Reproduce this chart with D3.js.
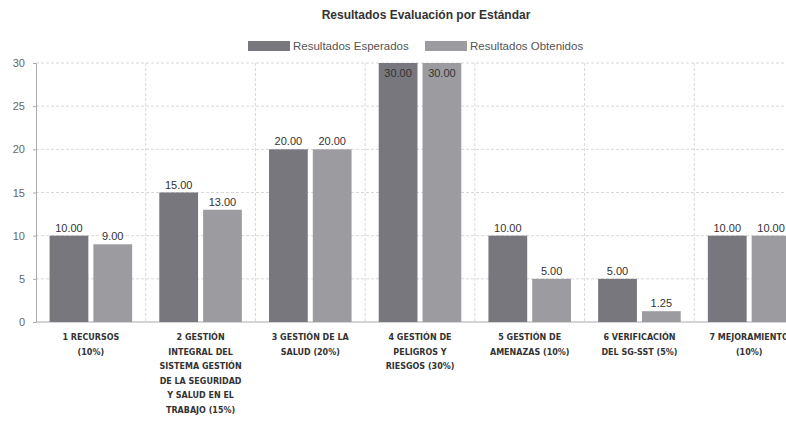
<!DOCTYPE html>
<html>
<head>
<meta charset="utf-8">
<script src="https://cdn.jsdelivr.net/npm/d3@7"></script>
<style>
  body { margin: 0; background: #fff; }
  svg { display: block; font-family: "Liberation Sans", Arial, sans-serif; }
</style>
</head>
<body>
<svg id="chart" width="786" height="423"></svg>
<script>
"use strict";
// chart data
const categories = ["1", "2", "3", "4", "5", "6", "7"];
const categoryLines = [
    ["1 RECURSOS", "(10%)"],
    ["2 GESTIÓN", "INTEGRAL DEL", "SISTEMA GESTIÓN", "DE LA SEGURIDAD", "Y SALUD EN EL", "TRABAJO (15%)"],
    ["3 GESTIÓN DE LA", "SALUD (20%)"],
    ["4 GESTIÓN DE", "PELIGROS Y", "RIESGOS (30%)"],
    ["5 GESTIÓN DE", "AMENAZAS (10%)"],
    ["6 VERIFICACIÓN", "DEL SG-SST (5%)"],
    ["7 MEJORAMIENTO", "(10%)"]
];
const seriesNames = ["Resultados Esperados", "Resultados Obtenidos"];
const esperados = [10, 15, 20, 30, 10, 5, 10];
const obtenidos = [9, 13, 20, 30, 5, 1.25, 10];
const yTicks = [0, 5, 10, 15, 20, 25, 30];
const colors = ["#77777d", "#9b9ba0"];

const svg = d3.select("#chart");
const margin = {top: 63, left: 36, bottom: 101};
const plotRight = 804;   // the plot runs past the window edge
const height = 423;

const x = d3.scaleBand().domain(categories)
    .range([margin.left, plotRight]).paddingInner(0).paddingOuter(0);
const x1 = d3.scaleBand().domain([0, 1])
    .range([0, x.bandwidth()]).paddingInner(0.115).paddingOuter(0.31);
const y = d3.scaleLinear().domain([0, 30]).range([height - margin.bottom, margin.top]);

// title
svg.append("text")
    .attr("x", 426).attr("y", 19)
    .attr("text-anchor", "middle")
    .attr("font-size", 12).attr("font-weight", "bold")
    .attr("fill", "#333")
    .text("Resultados Evaluación por Estándar");

// legend
const legendX = [248, 425];
seriesNames.forEach((name, i) => {
    svg.append("rect")
        .attr("x", legendX[i]).attr("y", 41)
        .attr("width", 42).attr("height", 10)
        .attr("fill", colors[i]);
    svg.append("text")
        .attr("x", legendX[i] + 45).attr("y", 50)
        .attr("font-size", 11.5).attr("fill", "#555")
        .text(name);
});

// grid lines
const grid = svg.append("g");
grid.selectAll(".hgrid")
    .data(yTicks.slice(1))
    .enter().append("line")
    .attr("x1", margin.left).attr("x2", plotRight)
    .attr("y1", d => y(d)).attr("y2", d => y(d))
    .attr("stroke", "#d8d8d8").attr("stroke-dasharray", "3,2");
grid.selectAll(".vgrid")
    .data(categories.slice(1))
    .enter().append("line")
    .attr("x1", d => x(d)).attr("x2", d => x(d))
    .attr("y1", margin.top).attr("y2", y(0))
    .attr("stroke", "#d8d8d8").attr("stroke-dasharray", "3,2");

// y axis
const yAxis = svg.append("g")
    .attr("transform", `translate(${margin.left},0)`)
    .call(d3.axisLeft(y).tickValues(yTicks).tickSize(3).tickPadding(8));
yAxis.select(".domain").attr("stroke", "#aaa");
yAxis.selectAll(".tick line").attr("stroke", "#aaa");
yAxis.selectAll("text").attr("font-size", 11).attr("fill", "#666")
    .attr("font-family", "Liberation Sans, Arial, sans-serif");

// x axis line
svg.append("line")
    .attr("x1", margin.left).attr("x2", plotRight)
    .attr("y1", y(0)).attr("y2", y(0))
    .attr("stroke", "#aaa");

// bars
const rows = categories.map((c, i) => ({cat: c, values: [esperados[i], obtenidos[i]]}));
const groups = svg.selectAll(".group")
    .data(rows)
    .enter().append("g")
    .attr("transform", d => `translate(${x(d.cat)},0)`);

groups.selectAll("rect")
    .data(d => d.values.map((v, k) => ({k: k, v: v})))
    .enter().append("rect")
    .attr("x", d => x1(d.k))
    .attr("y", d => y(d.v))
    .attr("width", x1.bandwidth())
    .attr("height", d => y(0) - y(d.v))
    .attr("fill", d => colors[d.k]);

groups.selectAll(".val")
    .data(d => d.values.map((v, k) => ({k: k, v: v})))
    .enter().append("text")
    .attr("x", d => x1(d.k) + x1.bandwidth() / 2)
    .attr("y", d => y(d.v) - 4 < margin.top ? y(d.v) + 14 : y(d.v) - 4)
    .attr("text-anchor", "middle")
    .attr("font-size", 11).attr("fill", "#333")
    .text(d => d.v.toFixed(2));

// category labels
const labels = svg.selectAll(".xlabel")
    .data(categories)
    .enter().append("text")
    .attr("text-anchor", "middle")
    .attr("font-family", "DejaVu Sans, sans-serif")
    .attr("font-size", 8).attr("font-weight", "bold")
    .attr("fill", "#333");
labels.selectAll("tspan")
    .data((d, i) => categoryLines[i].map(t => ({cat: d, t: t})))
    .enter().append("tspan")
    .attr("x", d => x(d.cat) + x.bandwidth() / 2)
    .attr("y", (d, j) => y(0) + 18 + j * 14.6)
    .text(d => d.t);
</script>
</body>
</html>
